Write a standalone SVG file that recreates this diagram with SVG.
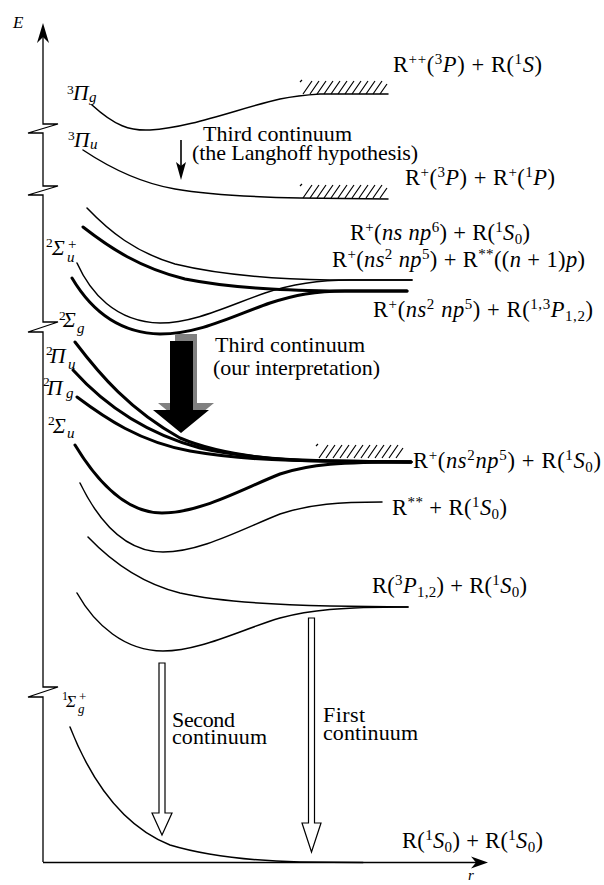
<svg xmlns="http://www.w3.org/2000/svg" xmlns:xlink="http://www.w3.org/1999/xlink" width="604" height="885" viewBox="0 0 604 885">
<style>
text{font-family:'Liberation Serif','DejaVu Serif',serif;fill:#000}
.t{font-size:22.5px}
.b{font-size:22px}
.i{font-style:italic}
.s{font-size:15px}
.gk{font-size:21.5px;font-style:italic}
.sb{font-size:15px;font-style:italic}
.sp{font-size:13.5px}
.thin{fill:none;stroke:#000;stroke-width:1.5;stroke-linecap:round}
.thick{fill:none;stroke:#000;stroke-width:3;stroke-linecap:round}
.ax{fill:none;stroke:#000;stroke-width:1.3}
.h{stroke:#000;stroke-width:1.2}
.hollow{fill:#fff;stroke:#000;stroke-width:1.2;stroke-linejoin:miter}
</style>
<defs>
<g id="hatch">
<path class="h" d="M2,2 l2,-2 M5,14 l9,-13 M12,14 l9,-13 M19,14 l9,-13 M26,14 l9,-13 M33,14 l9,-13 M40,14 l9,-13 M47,14 l9,-13 M54,14 l9,-13 M61,14 l9,-13 M68,14 l9,-13 M75,14 l9,-13 M82,14 l7,-10"/>
</g>
</defs>

<g id="axes">
<path class="ax" d="M43,862 L43,697 L28,697 L58,687 L43,687 L43,332 L28,332 L58,322 L43,322 L43,195 L28,195 L58,186 L43,186 L43,133 L28,133 L58,124 L43,124 L43,36"/>
<path d="M43,23 L49,43 L43,37 L37,43 Z" fill="#000"/>
<path class="ax" d="M43,862.5 L478,862.5"/>
<path d="M488,862.5 L471,868.5 L476,862.5 L471,856.5 Z" fill="#000"/>
<text class="i" x="13" y="28" font-size="17">E</text>
<text class="i" x="468" y="880" font-size="15">r</text>
</g>

<g id="state-3Pig">
<path class="thin" d="M92,105 C115,126 130,131 150,130 C190,128 240,108 280,99 C295,96 305,95 320,94 L388,94"/>
<use xlink:href="#hatch" x="298" y="80"/>
<text class="sp" x="67" y="94">3</text>
<text class="gk" x="73" y="100">Π</text>
<text class="sb" x="89" y="102">g</text>
</g>

<g id="state-3Piu">
<path class="thin" d="M83,150 C110,168 140,183 175,189 C210,195 250,197 300,198 L388,199"/>
<use xlink:href="#hatch" x="298" y="184"/>
<text class="sp" x="68" y="140">3</text>
<text class="gk" x="74" y="147">Π</text>
<text class="sb" x="90" y="149">u</text>
</g>

<g id="states-2Sigma-u-plus">
<path class="thin" d="M87,208 C110,232 135,252 175,264 C220,275 270,279 330,280 L412,280"/>
<path class="thick" d="M83,227 C110,248 140,268 185,279 C230,288 280,290 330,291 L407,291"/>
<path class="thin" d="M77,263 C90,292 115,322 160,323 C195,323 230,305 265,293 C295,283 320,280 350,280 L412,280"/>
<path class="thick" d="M72,278 C88,305 115,333 160,334 C200,334 235,315 270,303 C295,295 315,291 345,291 L407,291"/>
<text class="sp" x="46" y="247">2</text>
<text class="gk" x="52" y="255">Σ</text>
<text class="sb" x="67" y="262">u</text>
<text x="68" y="249" font-size="15">+</text>
</g>

<g id="states-ion-ground">
<path class="thick" d="M75,342 C100,375 130,410 180,438 C220,455 270,460 320,461 L411,462"/>
<path class="thick" d="M73,370 C100,400 140,432 200,448 C240,457 280,460 330,461 L411,462"/>
<path class="thick" d="M77,397 C105,418 140,442 190,451 C230,458 280,461 330,461 L411,462"/>
<path class="thick" d="M75,445 C95,478 125,513 162,513 C200,513 240,490 280,474 C310,464 340,462 411,462"/>
<use xlink:href="#hatch" x="314" y="444"/>
<text class="sp" x="59" y="320">2</text>
<text class="gk" x="63" y="327">Σ</text>
<text class="sb" x="77" y="333">g</text>
<text class="sp" x="46" y="355">2</text>
<text class="gk" x="50" y="363">Π</text>
<text class="sb" x="68" y="369">u</text>
<text class="sp" x="43" y="386">2</text>
<text class="gk" x="47" y="395">Π</text>
<text class="sb" x="66" y="398">g</text>
<text class="sp" x="48" y="425">2</text>
<text class="gk" x="53" y="433">Σ</text>
<text class="sb" x="67" y="438">u</text>
</g>

<g id="state-Rstarstar">
<path class="thin" d="M80,483 C98,520 125,552 163,552 C200,552 240,530 280,514 C310,504 340,502 382,502"/>
</g>

<g id="states-3P">
<path class="thin" d="M88,537 C110,560 140,583 180,593 C220,602 280,605 330,606 L408,607"/>
<path class="thin" d="M77,593 C95,625 125,651 163,651 C200,651 240,630 280,618 C310,610 340,607 408,607"/>
</g>

<g id="state-1Sigma-g-plus">
<path class="thin" d="M70,727 C90,778 120,825 170,845 C210,857 260,861 300,862 L363,862.5" stroke-width="1.8"/>
<text x="62" y="700" font-size="12">1</text>
<text class="i" x="66" y="707" font-size="17">Σ</text>
<text class="i" x="78" y="713" font-size="13">g</text>
<text x="79" y="701" font-size="13">+</text>
</g>

<g id="connectors">
<path d="M181,140 L181,168" stroke="#000" stroke-width="1.6"/>
<path d="M176,162 L181,180 L186,162 L181,166 Z" fill="#000"/>
<path d="M175,334 L197,334 L197,403 L214,403 L186,426 L158,403 L175,403 Z" fill="#808080"/>
<path d="M170,341 L193,341 L193,410 L209,410 L181,433 L153,410 L170,410 Z" fill="#000"/>
<path class="hollow" d="M159,663 L165,663 L165,813 L172,813 L162,835 L152,813 L159,813 Z"/>
<path class="hollow" d="M308.5,618 L314.5,618 L314.5,823 L321,823 L311.5,852 L302,823 L308.5,823 Z"/>
</g>

<g id="labels">
<text class="b" x="203" y="141" textLength="149">Third continuum</text>
<text class="b" x="192" y="160" textLength="226">(the Langhoff hypothesis)</text>
<text class="b" x="215" y="352" textLength="150">Third continuum</text>
<text class="b" x="213" y="375" textLength="167">(our interpretation)</text>
<text class="b" x="172" y="727" textLength="63">Second</text>
<text class="b" x="172" y="744" textLength="95">continuum</text>
<text class="b" x="323" y="722" textLength="42">First</text>
<text class="b" x="323" y="740" textLength="95">continuum</text>

<text class="t" x="393" y="72" textLength="149">R<tspan class="s" dy="-8">++</tspan><tspan dy="8">(</tspan><tspan class="s" dy="-8">3</tspan><tspan class="i" dy="8">P</tspan>) + R(<tspan class="s" dy="-8">1</tspan><tspan class="i" dy="8">S</tspan>)</text>
<text class="t" x="405" y="185" textLength="150">R<tspan class="s" dy="-8">+</tspan><tspan dy="8">(</tspan><tspan class="s" dy="-8">3</tspan><tspan class="i" dy="8">P</tspan>) + R<tspan class="s" dy="-8">+</tspan><tspan dy="8">(</tspan><tspan class="s" dy="-8">1</tspan><tspan class="i" dy="8">P</tspan>)</text>
<text class="t" x="350" y="240" textLength="180">R<tspan class="s" dy="-8">+</tspan><tspan dy="8">(</tspan><tspan class="i">ns np</tspan><tspan class="s" dy="-8">6</tspan><tspan dy="8">) + R(</tspan><tspan class="s" dy="-8">1</tspan><tspan class="i" dy="8">S</tspan><tspan class="s" dy="4">0</tspan><tspan dy="-4">)</tspan></text>
<text class="t" x="332" y="267" textLength="253">R<tspan class="s" dy="-8">+</tspan><tspan dy="8">(</tspan><tspan class="i">ns</tspan><tspan class="s" dy="-8">2</tspan><tspan class="i" dy="8"> np</tspan><tspan class="s" dy="-8">5</tspan><tspan dy="8">) + R</tspan><tspan class="s" dy="-8">**</tspan><tspan dy="8">((</tspan><tspan class="i">n</tspan> + 1)<tspan class="i">p</tspan>)</text>
<text class="t" x="373" y="317" textLength="220">R<tspan class="s" dy="-8">+</tspan><tspan dy="8">(</tspan><tspan class="i">ns</tspan><tspan class="s" dy="-8">2</tspan><tspan class="i" dy="8"> np</tspan><tspan class="s" dy="-8">5</tspan><tspan dy="8">) + R(</tspan><tspan class="s" dy="-8">1,3</tspan><tspan class="i" dy="8">P</tspan><tspan class="s" dy="4">1,2</tspan><tspan dy="-4">)</tspan></text>
<text class="t" x="413" y="468" textLength="188">R<tspan class="s" dy="-8">+</tspan><tspan dy="8">(</tspan><tspan class="i">ns</tspan><tspan class="s" dy="-8">2</tspan><tspan class="i" dy="8">np</tspan><tspan class="s" dy="-8">5</tspan><tspan dy="8">) + R(</tspan><tspan class="s" dy="-8">1</tspan><tspan class="i" dy="8">S</tspan><tspan class="s" dy="4">0</tspan><tspan dy="-4">)</tspan></text>
<text class="t" x="392" y="515" textLength="115">R<tspan class="s" dy="-8">**</tspan><tspan dy="8"> + R(</tspan><tspan class="s" dy="-8">1</tspan><tspan class="i" dy="8">S</tspan><tspan class="s" dy="4">0</tspan><tspan dy="-4">)</tspan></text>
<text class="t" x="372" y="593" textLength="155">R(<tspan class="s" dy="-8">3</tspan><tspan class="i" dy="8">P</tspan><tspan class="s" dy="4">1,2</tspan><tspan dy="-4">) + R(</tspan><tspan class="s" dy="-8">1</tspan><tspan class="i" dy="8">S</tspan><tspan class="s" dy="4">0</tspan><tspan dy="-4">)</tspan></text>
<text class="t" x="402" y="848" textLength="141">R(<tspan class="s" dy="-8">1</tspan><tspan class="i" dy="8">S</tspan><tspan class="s" dy="4">0</tspan><tspan dy="-4">) + R(</tspan><tspan class="s" dy="-8">1</tspan><tspan class="i" dy="8">S</tspan><tspan class="s" dy="4">0</tspan><tspan dy="-4">)</tspan></text>
</g>
</svg>
